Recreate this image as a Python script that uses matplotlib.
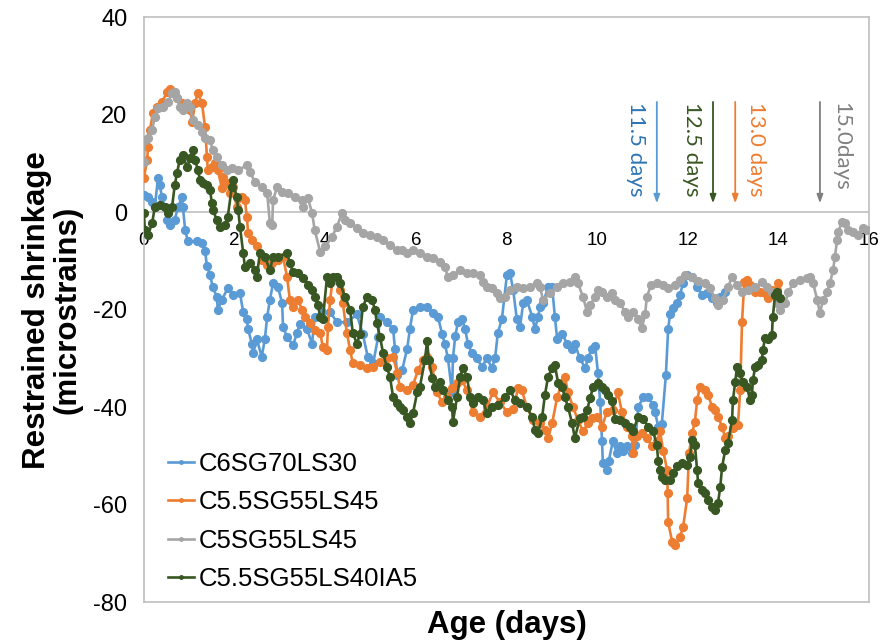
import matplotlib
matplotlib.use("Agg")
import matplotlib.pyplot as plt

plt.rcParams["font.family"] = ["Liberation Sans", "DejaVu Sans"]
plt.rcParams["axes.unicode_minus"] = False

# ---- data ----
series_names = ["C6SG70LS30", "C5.5SG55LS45", "C5SG55LS45", "C5.5SG55LS40IA5"]
series_colors = ["#5B9BD5", "#ED7D31", "#A5A5A5", "#385723"]

blue_x = [0.0, 0.09, 0.18, 0.24, 0.31, 0.35, 0.40, 0.46, 0.51, 0.57, 0.68, 0.75, 0.84, 0.86, 0.91,
          0.97, 1.17, 1.28, 1.35, 1.39, 1.46, 1.52, 1.61, 1.63, 1.72, 1.85, 1.96, 2.12, 2.19, 2.27,
          2.30, 2.38, 2.41, 2.49, 2.60, 2.67, 2.72, 2.78, 2.85, 2.96, 3.05, 3.07, 3.16, 3.29, 3.38,
          3.44, 3.60, 3.71, 3.77, 3.93, 4.11, 4.26, 4.48, 4.70, 4.83, 4.94, 5.06, 5.17, 5.21, 5.36,
          5.50, 5.54, 5.59, 5.70, 5.81, 5.87, 5.94, 6.09, 6.25, 6.38, 6.49, 6.58, 6.64, 6.71, 6.80,
          6.82, 6.87, 6.93, 7.02, 7.09, 7.15, 7.24, 7.35, 7.46, 7.57, 7.68, 7.75, 7.81, 7.90, 8.01,
          8.08, 8.15, 8.23, 8.30, 8.37, 8.45, 8.57, 8.63, 8.70, 8.74, 8.81, 8.92, 9.01, 9.07, 9.12,
          9.23, 9.34, 9.45, 9.51, 9.62, 9.74, 9.80, 9.89, 9.96, 10.02, 10.07, 10.11, 10.13, 10.22,
          10.26, 10.35, 10.44, 10.51, 10.57, 10.66, 10.77, 10.84, 10.91, 11.02, 11.13, 11.24, 11.28,
          11.35, 11.43, 11.52, 11.57, 11.61, 11.68, 11.77, 11.83, 11.90, 11.99, 12.10, 12.21, 12.32,
          12.43, 12.54, 12.65, 12.72, 12.83]
blue_y = [3.5, 3.1, 2.0, 1.0, 7.0, 5.5, 3.0, 1.0, -1.6, -2.7, -1.6, 1.0, 3.0, 1.0, -3.7,
          -6.0, -6.0, -6.4, -8.0, -11.0, -13.0, -15.4, -17.4, -20.0, -18.0, -15.6, -17.0, -16.6, -20.5, -22.0,
          -24.0, -27.0, -29.0, -26.0, -29.7, -26.0, -21.5, -18.0, -14.6, -15.4, -18.7, -23.6, -25.6, -27.3, -24.8,
          -23.0, -24.0, -27.0, -21.5, -20.5, -20.5, -22.6, -22.6, -21.0, -25.0, -29.7, -31.0, -25.6, -21.5, -22.6,
          -24.0, -28.0, -33.4, -32.4, -28.0, -24.0, -20.0, -19.5, -19.5, -20.7, -21.5, -25.0, -27.0, -30.0, -37.0,
          -30.0, -25.5, -22.6, -22.0, -24.0, -27.0, -29.0, -30.0, -31.8, -30.0, -32.0, -30.0, -24.8, -22.0, -13.0,
          -12.5, -16.0, -22.0, -23.6, -18.7, -18.0, -21.5, -24.0, -21.5, -19.5, -18.7, -15.4, -15.4, -21.5, -26.0,
          -25.0, -27.0, -28.0, -27.0, -30.0, -32.0, -30.0, -28.0, -27.5, -33.0, -39.0, -47.0, -51.5, -53.0,
          -51.0, -47.0, -49.5, -48.0, -49.0, -48.0, -49.5, -47.8, -40.0, -38.0, -38.0, -39.6, -41.0,
          -44.0, -43.5, -33.4, -24.0, -21.0, -19.7, -18.7, -17.0, -14.6, -13.0, -13.3, -15.4, -17.0,
          -16.6, -17.6, -18.7, -17.4, -16.4]

orange_x = [0.0, 0.07, 0.09, 0.13, 0.20, 0.29, 0.40, 0.51, 0.57, 0.64, 0.73, 0.84, 0.95, 1.02, 1.06,
            1.13, 1.19, 1.28, 1.35, 1.39, 1.41, 1.50, 1.57, 1.63, 1.72, 1.74, 1.83, 1.90, 1.96, 2.05,
            2.16, 2.23, 2.27, 2.30, 2.38, 2.49, 2.60, 2.72, 2.83, 2.96, 3.07, 3.16, 3.22, 3.29, 3.40,
            3.49, 3.55, 3.66, 3.77, 3.89, 3.95, 4.04, 4.06, 4.11, 4.17, 4.26, 4.33, 4.39, 4.48, 4.55,
            4.61, 4.77, 4.92, 5.06, 5.21, 5.36, 5.50, 5.59, 5.65, 5.81, 5.94, 6.05, 6.16, 6.25, 6.36,
            6.47, 6.58, 6.69, 6.80, 6.91, 7.02, 7.13, 7.26, 7.42, 7.57, 7.70, 7.86, 8.01, 8.15, 8.26,
            8.34, 8.45, 8.59, 8.74, 8.85, 8.92, 9.01, 9.12, 9.23, 9.29, 9.36, 9.47, 9.58, 9.69, 9.80,
            9.89, 10.00, 10.11, 10.22, 10.35, 10.46, 10.55, 10.66, 10.77, 10.79, 10.88, 10.99, 11.10,
            11.21, 11.32, 11.39, 11.46, 11.55, 11.56, 11.57, 11.66, 11.72, 11.83, 11.90, 11.99, 12.03,
            12.10, 12.16, 12.21, 12.27, 12.38, 12.45, 12.54, 12.60, 12.67, 12.76, 12.83, 12.89, 13.00,
            13.11, 13.16, 13.20, 13.25, 13.31, 13.38, 13.49, 13.60, 13.71, 13.77, 13.86, 13.97, 14.00]
orange_y = [7.0, 10.7, 13.3, 16.8, 20.3, 21.5, 22.6, 24.6, 25.2, 24.4, 23.4, 22.4, 22.0, 21.0, 18.5,
            22.4, 24.4, 22.4, 17.4, 11.3, 8.6, 9.2, 10.0, 8.6, 5.0, 7.2, 6.0, 4.0, 5.1, 1.0,
            3.0, 2.5, -1.0, -4.3, -5.7, -7.0, -9.8, -10.8, -10.5, -9.8, -9.2, -13.3, -18.0, -19.5, -18.0,
            -20.0, -21.5, -22.8, -24.2, -24.8, -27.7, -28.3, -23.6, -18.0, -13.5, -14.0, -16.0, -18.7, -24.8, -28.3,
            -31.0, -31.4, -32.0, -31.8, -30.8, -30.0, -29.7, -33.0, -35.9, -36.5, -35.5, -32.4, -30.4, -29.8, -31.8,
            -37.0, -39.0, -38.0, -36.0, -35.0, -34.5, -36.5, -41.0, -42.0, -40.0, -37.0, -39.0, -41.0, -40.5, -36.0,
            -36.5, -40.0, -42.7, -43.3, -44.7, -46.4, -43.3, -38.0, -35.0, -33.8, -37.0, -40.0, -42.7, -45.0, -43.3,
            -42.3, -42.0, -44.0, -41.0, -40.6, -37.0, -41.0, -44.0, -46.0, -49.5, -46.0, -45.3, -46.4,
            -48.0, -47.0, -45.0, -49.0, -53.0, -57.6, -63.6, -67.7, -68.3, -66.7, -64.6, -58.7, -49.5,
            -45.3, -43.0, -38.6, -35.9, -36.5, -37.5, -40.0, -40.6, -42.0, -44.0, -46.4, -46.0, -44.3,
            -43.7, -36.5, -22.6, -14.4, -14.0, -15.0, -16.4, -16.4, -16.6, -17.6, -16.0, -16.0, -14.6]

gray_x = [0.0, 0.02, 0.09, 0.18, 0.24, 0.31, 0.42, 0.53, 0.62, 0.68, 0.73, 0.79, 0.86, 0.95, 1.02,
          1.08, 1.19, 1.28, 1.35, 1.46, 1.52, 1.61, 1.72, 1.83, 1.94, 2.08, 2.27, 2.34, 2.45, 2.60,
          2.72, 2.78, 2.83, 2.85, 2.94, 3.05, 3.18, 3.33, 3.49, 3.51, 3.62, 3.71, 3.77, 3.89, 4.00,
          4.15, 4.26, 4.37, 4.44, 4.55, 4.70, 4.83, 4.99, 5.14, 5.28, 5.43, 5.59, 5.70, 5.81, 5.94,
          6.09, 6.25, 6.38, 6.53, 6.64, 6.71, 6.82, 6.98, 7.13, 7.26, 7.42, 7.48, 7.57, 7.68, 7.79,
          7.86, 7.97, 8.08, 8.23, 8.37, 8.52, 8.68, 8.74, 8.81, 8.96, 9.12, 9.25, 9.40, 9.51, 9.58,
          9.69, 9.78, 9.85, 9.96, 10.02, 10.11, 10.22, 10.33, 10.40, 10.51, 10.62, 10.68, 10.79, 10.91,
          10.99, 11.06, 11.10, 11.19, 11.32, 11.46, 11.57, 11.72, 11.83, 11.94, 12.10, 12.23, 12.38,
          12.49, 12.60, 12.67, 12.78, 12.89, 12.98, 13.09, 13.20, 13.33, 13.49, 13.64, 13.75, 13.86,
          13.97, 14.04, 14.15, 14.22, 14.33, 14.48, 14.64, 14.70, 14.77, 14.86, 14.92, 14.99, 15.08,
          15.14, 15.21, 15.25, 15.30, 15.32, 15.41, 15.47, 15.54, 15.65, 15.76, 15.87, 15.96]
gray_y = [10.3, 14.8, 15.2, 16.8, 19.5, 21.3, 21.5, 22.6, 24.4, 24.6, 23.4, 21.5, 21.0, 22.4, 21.5,
          18.9, 17.8, 16.4, 15.2, 14.8, 12.7, 11.3, 9.6, 8.6, 9.0, 8.6, 9.6, 8.2, 6.2, 5.1,
          3.9, -2.3, -2.7, 2.5, 5.1, 4.1, 3.9, 3.0, 2.5, 1.0, 2.9, -0.2, -3.7, -8.2, -7.0,
          -5.1, -3.0, -0.2, -1.6, -2.3, -3.3, -4.3, -4.7, -5.1, -5.7, -6.8, -7.8, -7.8, -8.4, -7.8,
          -8.4, -9.2, -9.4, -10.3, -11.3, -13.3, -12.9, -11.9, -12.5, -12.5, -12.9, -14.4, -15.4, -15.6, -16.6,
          -17.6, -17.4, -16.0, -15.4, -15.6, -15.4, -14.6, -15.4, -18.0, -16.6, -15.4, -14.6, -14.4, -13.3, -14.6,
          -17.4, -20.5, -19.0, -17.4, -16.0, -16.4, -17.4, -16.6, -18.0, -18.7, -20.5, -21.5, -20.5, -22.0,
          -23.8, -21.0, -17.4, -15.0, -14.6, -15.0, -15.6, -15.0, -14.0, -13.0, -13.3, -14.2, -14.6,
          -15.6, -17.6, -19.0, -18.0, -15.4, -13.3, -15.0, -16.4, -16.0, -15.4, -14.4, -15.4, -16.4,
          -18.7, -20.0, -18.7, -16.4, -14.6, -14.0, -13.6, -13.3, -14.6, -18.0, -20.7, -18.0, -16.4,
          -14.6, -11.9, -9.2, -5.7, -4.1, -2.0, -2.3, -3.7, -4.1, -4.7, -3.3, -3.7]

green_x = [0.0, 0.02, 0.09, 0.18, 0.24, 0.35, 0.46, 0.53, 0.62, 0.68, 0.73, 0.79, 0.86, 0.95, 1.02,
           1.08, 1.13, 1.19, 1.24, 1.30, 1.39, 1.46, 1.50, 1.52, 1.61, 1.68, 1.79, 1.85, 1.94, 1.96,
           2.05, 2.08, 2.12, 2.19, 2.23, 2.34, 2.45, 2.49, 2.56, 2.67, 2.78, 2.85, 2.96, 3.16, 3.22,
           3.29, 3.40, 3.51, 3.62, 3.71, 3.77, 3.84, 3.89, 3.95, 4.04, 4.11, 4.17, 4.26, 4.33, 4.44,
           4.55, 4.61, 4.70, 4.77, 4.83, 4.92, 5.03, 5.10, 5.14, 5.21, 5.28, 5.36, 5.43, 5.50, 5.59,
           5.65, 5.72, 5.81, 5.87, 5.94, 6.03, 6.09, 6.20, 6.25, 6.29, 6.36, 6.42, 6.53, 6.60, 6.71,
           6.80, 6.82, 6.91, 6.98, 7.04, 7.13, 7.20, 7.26, 7.37, 7.48, 7.57, 7.68, 7.81, 7.97, 8.08,
           8.19, 8.30, 8.45, 8.57, 8.63, 8.70, 8.79, 8.85, 8.92, 9.01, 9.07, 9.14, 9.23, 9.29, 9.36,
           9.45, 9.51, 9.62, 9.69, 9.78, 9.85, 9.91, 10.02, 10.11, 10.18, 10.24, 10.33, 10.40, 10.51,
           10.62, 10.73, 10.79, 10.91, 11.02, 11.13, 11.24, 11.32, 11.35, 11.39, 11.43, 11.50, 11.61,
           11.68, 11.77, 11.88, 11.99, 12.05, 12.10, 12.16, 12.21, 12.23, 12.32, 12.38, 12.45, 12.54,
           12.60, 12.67, 12.72, 12.76, 12.83, 12.89, 12.98, 13.00, 13.05, 13.09, 13.16, 13.22, 13.31,
           13.38, 13.42, 13.44, 13.49, 13.56, 13.64, 13.66, 13.71, 13.77, 13.86, 13.88, 13.93, 13.97, 14.04]
green_y = [-0.2, -3.7, -4.7, -2.3, 1.0, 1.4, 1.0, -0.2, 1.0, 5.5, 8.0, 10.7, 11.7, 9.2, 11.0,
           12.7, 10.7, 8.6, 6.6, 6.0, 5.5, 4.5, 1.8, 0.4, -1.6, -3.0, -2.6, -1.0, 5.1, 6.6,
           3.0, 0.4, -3.0, -8.4, -11.3, -10.5, -11.9, -13.3, -8.4, -9.2, -11.9, -9.2, -9.2, -8.4, -10.5,
           -12.3, -12.5, -13.5, -15.0, -16.0, -17.4, -19.0, -21.5, -22.0, -13.3, -14.6, -13.3, -13.3, -14.6, -17.4,
           -20.0, -24.8, -27.0, -25.0, -19.5, -17.4, -18.0, -20.0, -22.8, -25.6, -29.0, -31.8, -33.8, -38.0, -39.2,
           -40.0, -40.6, -42.0, -43.3, -41.2, -37.0, -35.9, -30.4, -26.5, -30.4, -34.0, -35.9, -34.9, -36.5, -38.6,
           -40.0, -43.0, -38.0, -33.8, -32.0, -33.8, -38.0, -39.2, -38.0, -38.6, -41.2, -40.0, -39.6, -38.0, -36.5,
           -38.6, -39.2, -40.0, -42.0, -44.7, -45.3, -42.0, -37.5, -33.8, -32.0, -31.4, -35.0, -35.9, -38.0, -40.0,
           -43.3, -46.4, -42.3, -42.0, -40.6, -38.2, -35.9, -35.0, -35.9, -36.5, -37.5, -38.8, -42.5, -42.7,
           -43.3, -44.0, -45.0, -42.0, -42.5, -44.0, -45.0, -47.8, -51.0, -53.0, -54.4, -55.0, -55.0,
           -53.5, -52.0, -51.5, -51.8, -50.3, -46.8, -47.8, -53.0, -55.6, -57.0, -57.6, -59.0, -60.5,
           -61.1, -59.7, -56.4, -52.3, -48.8, -47.4, -42.7, -38.6, -34.9, -31.8, -33.0, -34.9, -35.9,
           -38.6, -37.5, -34.5, -31.8, -31.4, -30.4, -28.3, -25.8, -26.0, -25.2, -21.5, -17.0, -16.4, -17.6]

# cracking-age markers
crack_labels = ["11.5 days", "12.5 days", "13.0 days", "15.0days"]
crack_x = [11.32, 12.56, 13.05, 14.92]
crack_line_colors = ["#5B9BD5", "#385723", "#ED7D31", "#7F7F7F"]
crack_text_colors = ["#2E75B6", "#385723", "#ED7D31", "#808080"]
crack_text_side = [-1, -1, 1, 1]

x_ticks = [0, 2, 4, 6, 8, 10, 12, 14, 16]
y_ticks = [-80, -60, -40, -20, 0, 20, 40]

frame_color = "#BFBFBF"

fig = plt.figure(figsize=(8.83, 6.42), dpi=100)
ax = fig.add_axes([0.163, 0.0623, 0.821, 0.911])

all_x = [blue_x, orange_x, gray_x, green_x]
all_y = [blue_y, orange_y, gray_y, green_y]
for xs, ys, name, color in zip(all_x, all_y, series_names, series_colors):
    ax.plot(xs, ys, color=color, lw=1.9, marker="o", ms=5.6, mec=color, mfc=color,
            label=name, zorder=3)

ax.set_xlim(0, 16)
ax.set_ylim(-80, 40)
ax.axhline(0, color=frame_color, lw=1.2, zorder=1)

for sp in ax.spines.values():
    sp.set_color(frame_color)
    sp.set_linewidth(1.2)

ax.set_yticks(y_ticks)
ax.tick_params(axis="y", length=0, pad=12, labelsize=17)
ax.set_xticks([])

# tick labels hang under the zero line, as in the original
ylo, yhi = ax.get_ylim()
sec = ax.secondary_xaxis((0 - ylo) / (yhi - ylo))
sec.set_alignment("bottom")
sec.set_xticks(x_ticks)
sec.tick_params(length=0, pad=14, labelsize=13.5)
sec.spines["bottom"].set_visible(False)
sec.spines["top"].set_visible(False)

ax.set_xlabel("Age (days)", fontsize=22.5, fontweight="bold", labelpad=6)
ax.set_ylabel("Restrained shrinkage\n(microstrains)", fontsize=22.5, fontweight="bold",
              labelpad=8, linespacing=1.0)

for lab, xc, lc, tc, side in zip(crack_labels, crack_x, crack_line_colors,
                                 crack_text_colors, crack_text_side):
    ax.annotate("", xy=(xc, 1.8), xytext=(xc, 22.6),
                arrowprops=dict(arrowstyle="-|>,head_width=0.18,head_length=0.5",
                                color=lc, lw=1.3, shrinkA=0, shrinkB=0))
    ax.text(xc + side * 0.46, 22.6, lab, rotation=-90, ha="center", va="top",
            color=tc, fontsize=16, family=["Lato", "DejaVu Sans"])

leg = ax.legend(loc="center left", bbox_to_anchor=(0.033, 0.1376), frameon=False,
                fontsize=18.5, handlelength=1.0, handletextpad=0.2, labelspacing=0.55,
                borderpad=0, borderaxespad=0, markerscale=0.45)

fig.savefig("out.png", dpi=100)
